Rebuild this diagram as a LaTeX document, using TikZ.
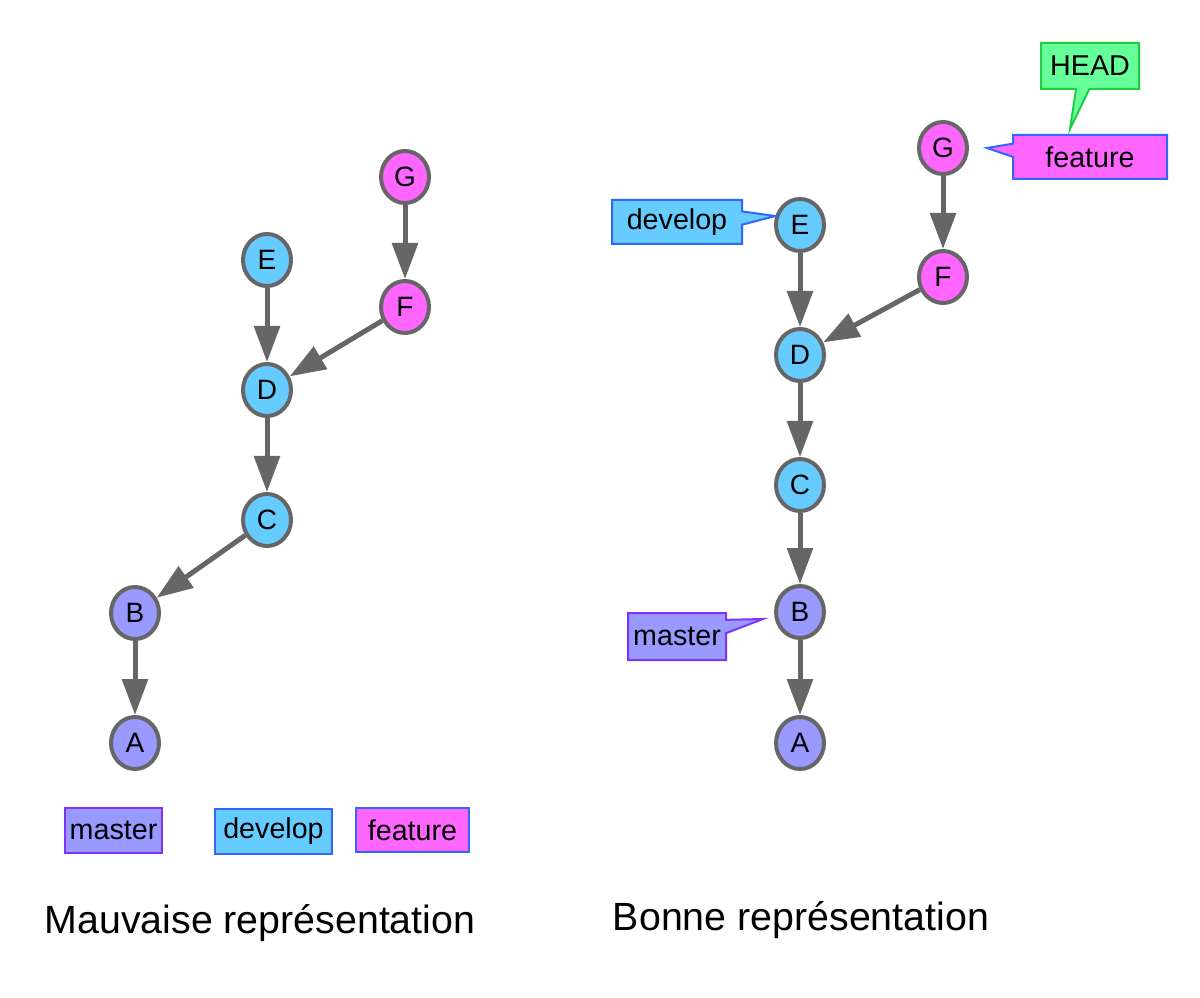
\documentclass[tikz,border=0pt]{standalone}
\usepackage{fontspec}
\setmainfont{Liberation Sans}
\usetikzlibrary{positioning}
\usetikzlibrary{arrows.meta}
\usetikzlibrary{calc}
\usetikzlibrary{shapes.geometric}
\usetikzlibrary{shapes.callouts}

\definecolor{commitgray}{HTML}{666666}
\definecolor{masterfill}{HTML}{9999FF}
\definecolor{masterdraw}{HTML}{7F33FF}
\definecolor{developfill}{HTML}{66CCFF}
\definecolor{developdraw}{HTML}{3366FF}
\definecolor{featurefill}{HTML}{FF66FF}
\definecolor{featuredraw}{HTML}{3366FF}
\definecolor{headfill}{HTML}{66FF99}
\definecolor{headdraw}{HTML}{22CC44}

\begin{document}
\begin{tikzpicture}[x=0.75pt, y=-0.75pt,
	commit/.style={ellipse, draw=commitgray, line width=3pt, minimum width=36pt, minimum height=39pt, inner sep=0pt, font=\fontsize{21}{24}\selectfont},
	edge/.style={draw=commitgray, line width=3.75pt, -{Triangle[length=27pt, width=19pt]}},
	branch/.style={rectangle, line width=1.5pt, inner sep=0pt, font=\fontsize{21.5}{24}\selectfont},
	tag/.style={rectangle callout, line width=1.5pt, inner sep=0pt, callout pointer width=10pt, font=\fontsize{21.5}{24}\selectfont}]
	\useasboundingbox (0,0) rectangle (1200,998);

	% Mauvaise representation: the commits
	\foreach \n/\x/\y/\c in {A/135/743/masterfill, B/135/613/masterfill, C/267/520/developfill, D/267/390/developfill, E/267/260/developfill, F/405/307/featurefill, G/405/177/featurefill} {
		\node[commit, fill=\c] (l\n) at (\x,\y) {\n};
	}
	\foreach \a/\b in {G/F, F/D, E/D, D/C, C/B, B/A} {
		\draw[edge] (l\a) -- (l\b);
	}

	% legend of the branches
	\node[branch, fill=masterfill, draw=masterdraw, minimum width=72.75pt, minimum height=33.75pt] (lmaster) at (113.5,830.5) {master};
	\node[branch, fill=developfill, draw=developdraw, minimum width=87.75pt, minimum height=33.75pt] (ldevelop) at (273.5,831.5) {develop};
	\node[branch, fill=featurefill, draw=featuredraw, minimum width=84.75pt, minimum height=33pt] (lfeature) at (412.5,830) {feature};

	\node[anchor=base, font=\fontsize{29.5}{34}\selectfont] (ltitle) at (260,933) {Mauvaise représentation};

	% Bonne representation: the commits
	\foreach \n/\x/\y/\c in {A/800/743/masterfill, B/800/612/masterfill, C/800/485/developfill, D/800/355/developfill, E/800/225/developfill, F/943/277/featurefill, G/943/148/featurefill} {
		\node[commit, fill=\c] (r\n) at (\x,\y) {\n};
	}
	\foreach \a/\b in {G/F, F/D, E/D, D/C, C/B, B/A} {
		\draw[edge] (r\a) -- (r\b);
	}

	% branches pointing at their commits
	\node[tag, fill=developfill, draw=developdraw, minimum width=97.5pt, minimum height=33pt, callout absolute pointer={(rE.160)}] (rdevelop) at (677,222) {develop};
	\node[tag, fill=featurefill, draw=featuredraw, minimum width=115.5pt, minimum height=33pt, callout absolute pointer={($(rG.east)+(18,0)$)}] (rfeature) at (1090,157) {feature};
	\node[tag, fill=headfill, draw=headdraw, minimum width=73.5pt, minimum height=34.5pt, callout absolute pointer={($(rfeature.north)+(-20,-5)$)}] (rhead) at (1090,66) {HEAD};
	\node[tag, fill=masterfill, draw=masterdraw, minimum width=73.5pt, minimum height=35.25pt, callout absolute pointer={($(rB.west)+(-11,7)$)}] (rmaster) at (677,636.5) {master};

	\node[anchor=base, font=\fontsize{29.5}{34}\selectfont] (rtitle) at (801,930) {Bonne représentation};
\end{tikzpicture}
\end{document}
